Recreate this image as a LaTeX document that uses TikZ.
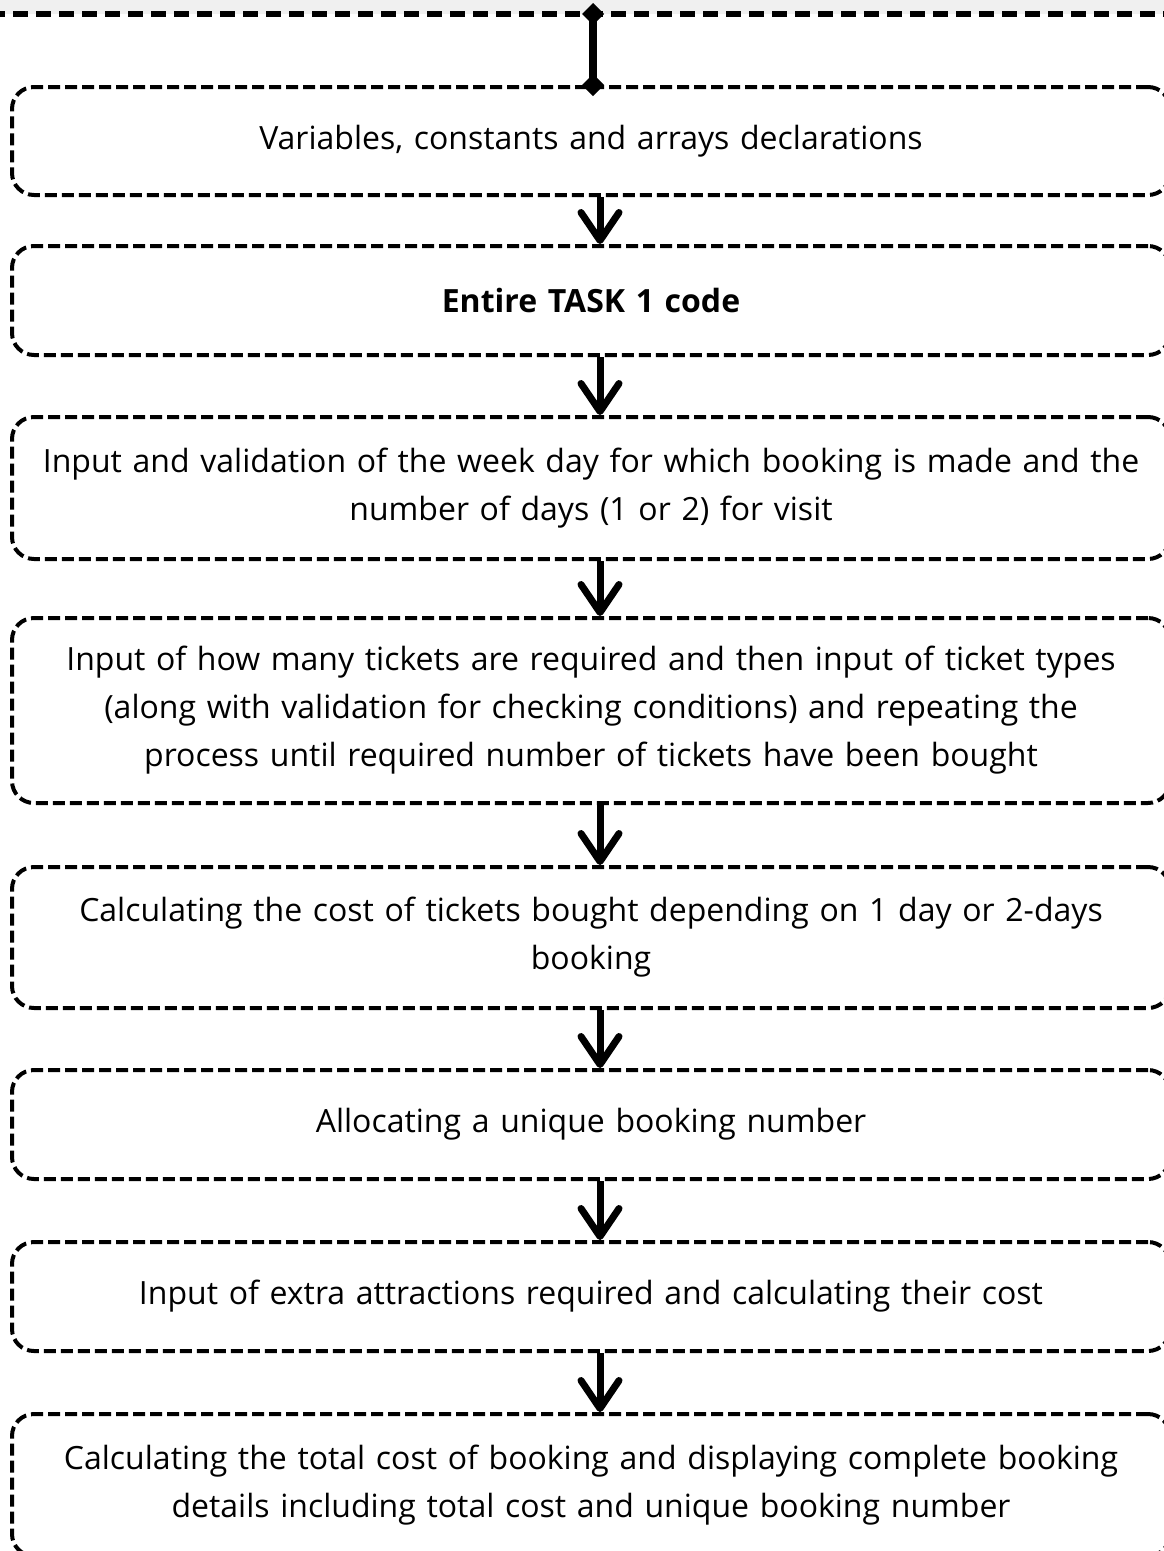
\documentclass[tikz,border=0pt]{standalone}
\usepackage{fontspec}
\setmainfont{Open Sans}
\usetikzlibrary{arrows.meta}
\begin{document}
\begin{tikzpicture}[x=1pt,y=-1pt,
  stepbox/.style={draw=black, line width=4pt, dash pattern=on 12pt off 5pt,
    rounded corners=22pt, minimum width=1158pt, inner sep=0pt,
    text width=1150pt, align=center, font=\fontsize{32}{48}\selectfont},
  flowarrow/.style={line width=7pt, -{Straight Barb[length=28pt, width=38pt, line cap=round, line join=round]}},
  topline/.style={line width=6pt, dash pattern=on 15pt off 8pt}
]
\useasboundingbox (0,0) rectangle (1164,1551);
\fill[black!6] (0,0) rectangle (1164,14);
\coordinate (tl) at (-10,14);
\coordinate (tr) at (1174,14);
\draw[topline] (tl) -- (tr);
\coordinate (ax) at (600,0);
\coordinate (topc) at (593,14);

\node[stepbox, minimum height=108pt] (b1) at (591,141) {Variables, constants and arrays declarations};
\node[stepbox, minimum height=109pt] (b2) at (591,300.5) {\textbf{Entire TASK 1 code}};
\node[stepbox, minimum height=142pt] (b3) at (591,488) {Input and validation of the week day for which booking is made and the\\ number of days (1 or 2) for visit};
\node[stepbox, minimum height=185pt] (b4) at (591,710.5) {Input of how many tickets are required and then input of ticket types\\ (along with validation for checking conditions) and repeating the\\ process until required number of tickets have been bought};
\node[stepbox, minimum height=141pt] (b5) at (591,937.5) {Calculating the cost of tickets bought depending on 1 day or 2-days\\ booking};
\node[stepbox, minimum height=109pt] (b6) at (591,1124.5) {Allocating a unique booking number};
\node[stepbox, minimum height=109pt] (b7) at (591,1296.5) {Input of extra attractions required and calculating their cost};
\node[stepbox, minimum height=142pt] (b8) at (591,1485) {Calculating the total cost of booking and displaying complete booking\\ details including total cost and unique booking number};

\coordinate (b1top) at (b1.north -| topc);
\draw[line width=8pt] (topc) -- (b1top);
\fill (topc) +(0,-11) -- +(11,0) -- +(0,11) -- +(-11,0) -- cycle;
\fill (b1top) +(0,-11) -- +(11,0) -- +(0,11) -- +(-11,0) -- cycle;

\draw[flowarrow] (b1.south -| ax) -- (b2.north -| ax);
\draw[flowarrow] (b2.south -| ax) -- (b3.north -| ax);
\draw[flowarrow] (b3.south -| ax) -- (b4.north -| ax);
\draw[flowarrow] (b4.south -| ax) -- (b5.north -| ax);
\draw[flowarrow] (b5.south -| ax) -- (b6.north -| ax);
\draw[flowarrow] (b6.south -| ax) -- (b7.north -| ax);
\draw[flowarrow] (b7.south -| ax) -- (b8.north -| ax);
\end{tikzpicture}
\end{document}
